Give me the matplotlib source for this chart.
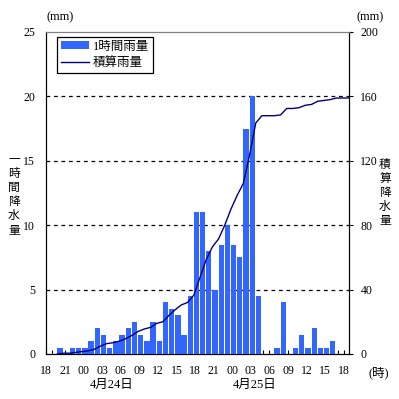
import numpy as np
import matplotlib
matplotlib.use("Agg")
import matplotlib.pyplot as plt

plt.rcParams['font.family'] = ['Liberation Serif', 'Noto Sans CJK JP']

# 1時間雨量 (mm), 4/23 18時 から 4/25 18時 まで1時間ごと
hourly = [0, 0, 0.5, 0, 0.5, 0.5, 0.5, 1.0, 2.0, 1.5,
          0.5, 1.0, 1.5, 2.0, 2.5, 1.5, 1.0, 2.5, 1.0, 4.0,
          3.5, 3.0, 1.5, 4.5, 11, 11, 8, 5, 8.5, 10,
          8.5, 7.5, 17.5, 20, 4.5, 0, 0, 0.5, 4.0, 0,
          0.5, 1.5, 0.5, 2.0, 0.5, 0.5, 1.0, 0]
hour_labels = ['18', '21', '00', '03', '06', '09', '12', '15', '18',
               '21', '00', '03', '06', '09', '12', '15', '18']
date_labels = ['4月24日', '4月25日']

hourly = np.array(hourly)
cumulative = np.cumsum(hourly)
slots = np.arange(len(hourly))

fig = plt.figure(figsize=(3.99, 3.99), dpi=100)
ax = fig.add_axes([0.116, 0.1128, 0.7595, 0.807])
ax2 = ax.twinx()

# 棒グラフ (左軸)
ax.bar(slots - 0.2, hourly, width=0.86, align='edge', color='#3366FF',
       label='1時間雨量', zorder=3)
xmax = 48.9
ax.set_xlim(0, xmax)
ax.set_ylim(0, 25)
ax.set_yticks(range(0, 26, 5))
for v in range(5, 25, 5):
    ax.axhline(v, color='black', lw=0.9, ls=(0, (3, 3)), zorder=2)

ax.set_xticks(range(0, 49, 3))
ax.set_xticklabels(hour_labels)
ax.set_xticks(range(0, 49), minor=True)
ax.tick_params(axis='x', which='both', direction='in', length=3, pad=8,
               labelsize=8.5, width=0.8)
ax.tick_params(axis='y', length=0, pad=8, labelsize=8.5)

# 積算 (右軸)
line_x = np.append(slots[1:] + 0.8, xmax)
line_y = np.append(cumulative[1:], cumulative[-1])
line, = ax2.plot(line_x, line_y, color='#000080', lw=1,
                 label='積算雨量', zorder=4)
ax2.set_ylim(0, 200)
ax2.set_yticks(range(0, 201, 40))
ax2.tick_params(axis='y', direction='out', length=3, pad=5, labelsize=8.5)

for a in (ax, ax2):
    a.spines['top'].set_color('#808080')
    a.spines['left'].set_color('black')
    a.spines['right'].set_color('black')
    a.spines['bottom'].set_color('black')

bars = ax.patches[0]
leg = ax2.legend([bars, line], ['1時間雨量', '積算雨量'], loc='upper left',
                 bbox_to_anchor=(0.035, 0.985), fontsize=9, fancybox=False,
                 edgecolor='black', framealpha=1, handlelength=2.3,
                 handleheight=0.55, borderpad=0.3, labelspacing=0.35,
                 handletextpad=0.3, borderaxespad=0)
leg.get_frame().set_linewidth(0.9)

# 軸ラベル等
fig.text(14 / 399, 1 - 195 / 399, '一\n時\n間\n降\n水\n量', ha='center',
         va='center', fontsize=8.5, linespacing=1.25)
fig.text(385 / 399, 1 - 193 / 399, '積\n算\n降\n水\n量', ha='center',
         va='center', fontsize=8.5, linespacing=1.25)
fig.text(60 / 399, 1 - 17 / 399, '(mm)', ha='center', va='center', fontsize=9)
fig.text(370 / 399, 1 - 17 / 399, '(mm)', ha='center', va='center', fontsize=9)
fig.text(379 / 399, 1 - 373 / 399, '(時)', ha='center', va='center', fontsize=9)
fig.text(112 / 399, 1 - 385 / 399, date_labels[0], ha='center', va='center',
         fontsize=9)
fig.text(255 / 399, 1 - 385 / 399, date_labels[1], ha='center', va='center',
         fontsize=9)

fig.savefig('out.png', dpi=100)
